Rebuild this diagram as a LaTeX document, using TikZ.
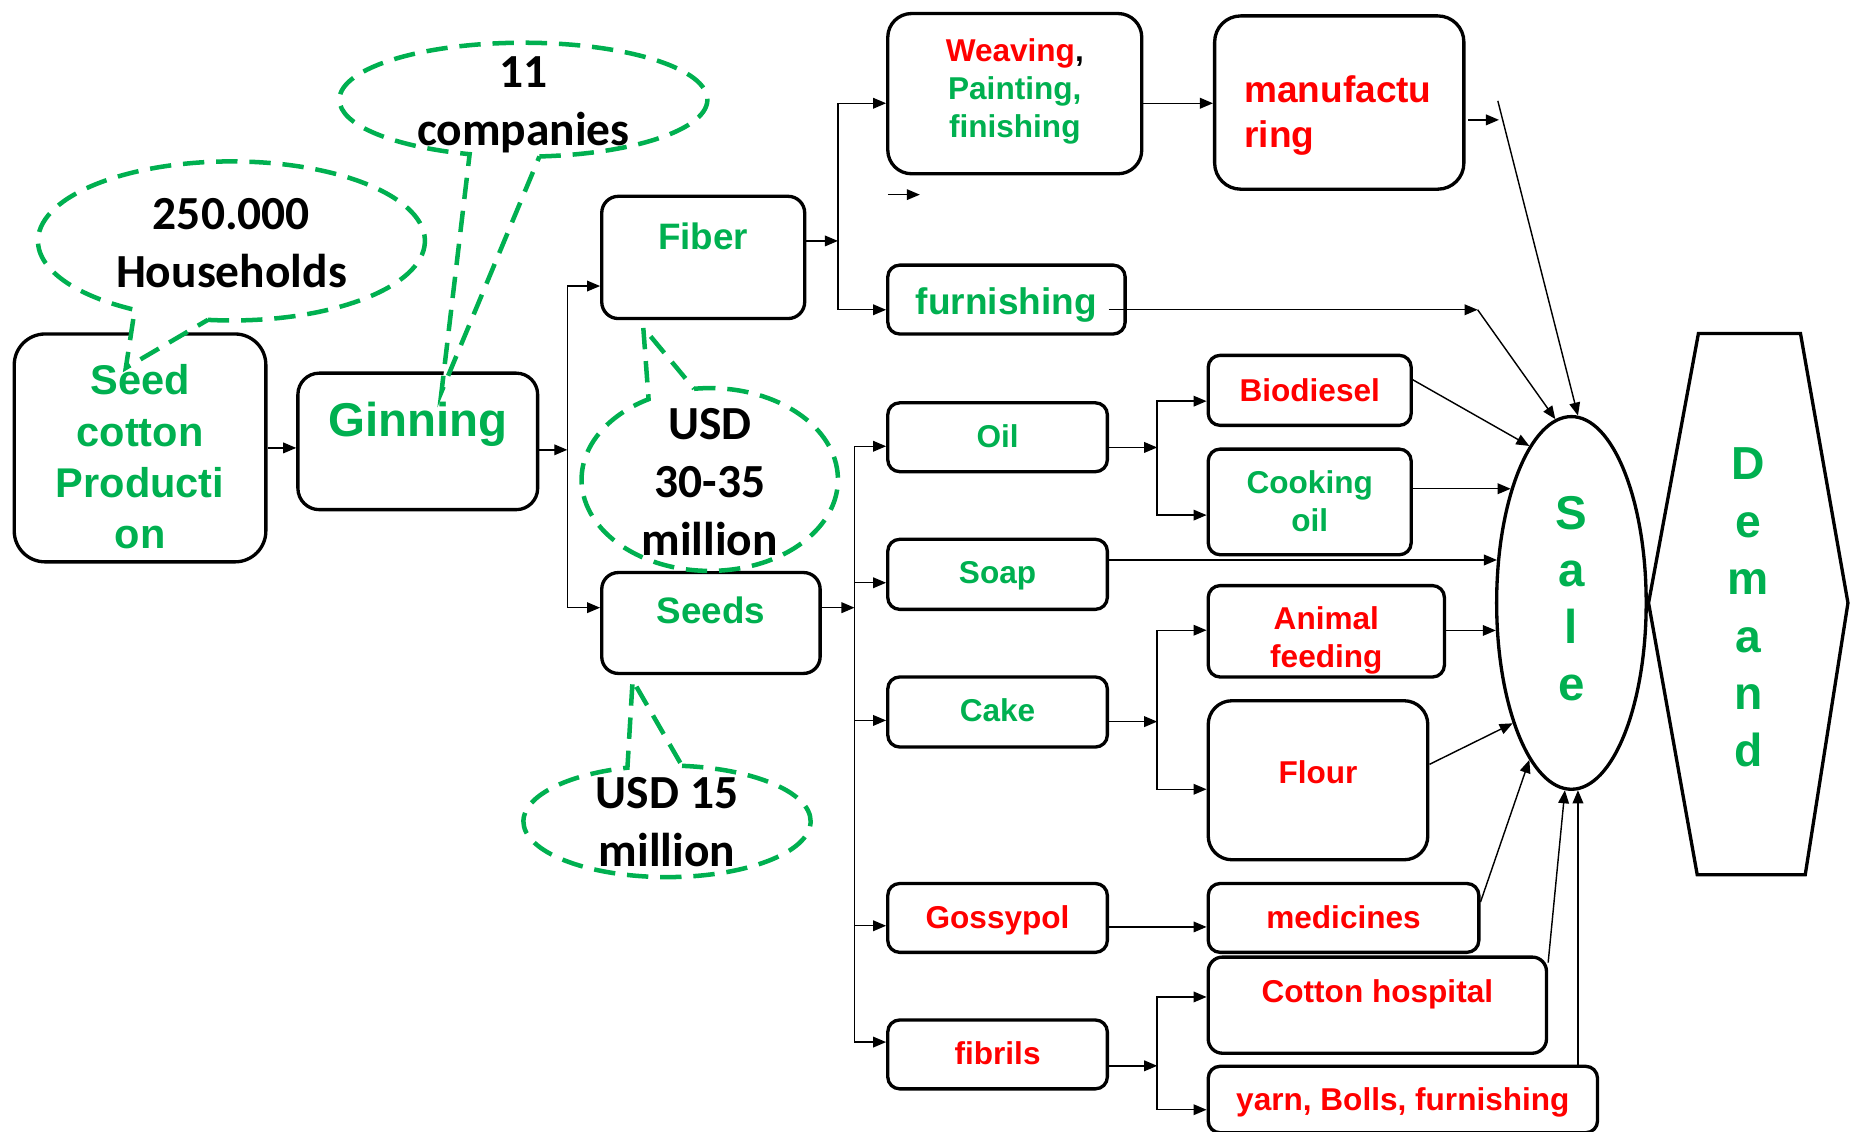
\documentclass[tikz,border=0pt]{standalone}
\usepackage{fontspec}
\setmainfont{Liberation Sans}
\newfontfamily\calfont{Carlito}
\usetikzlibrary{shapes.geometric, arrows.meta}
\definecolor{grn}{RGB}{0,176,80}
\definecolor{rd}{RGB}{255,0,0}
\tikzset{
  box/.style={draw, line width=1.4pt, rounded corners=5pt, inner sep=0pt, align=center, anchor=north, font=\bfseries\fontsize{13.3}{16}\selectfont},
  gtxt/.style={text=grn},
  rtxt/.style={text=rd},
  arr/.style={line width=0.6pt, -{Triangle[length=5.5pt,width=4.5pt]}},
  callout/.style={draw=grn, line width=1.9pt, dash pattern=on 9pt off 5pt, fill=white},
  ctxt/.style={align=center, inner sep=0pt, font=\calfont\bfseries\fontsize{20}{24.5}\selectfont}
}
\begin{document}
\begin{tikzpicture}[x=0.5pt, y=-0.5pt]
\useasboundingbox (0,0) rectangle (1568,953);

% chain on the left
\node[box, gtxt, rounded corners=13pt, minimum width=106pt, text height=90.4pt, text depth=5.6pt, font=\bfseries\fontsize{17.5}{21.6}\selectfont] (seed) at (118,280) {Seed\\cotton\\Producti\\on};
\node[box, gtxt, rounded corners=9pt, minimum width=101pt, text height=26.5pt, text depth=31pt, font=\bfseries\fontsize{20}{24}\selectfont] (gin) at (352,313) {Ginning};
\node[box, gtxt, rounded corners=7pt, minimum width=85.5pt, text height=22.5pt, text depth=29pt, font=\bfseries\fontsize{15.5}{18}\selectfont] (fiber) at (592.5,164) {Fiber};
\node[box, gtxt, rounded corners=7pt, minimum width=92pt, text height=21.5pt, text depth=21pt, font=\bfseries\fontsize{15.5}{18}\selectfont] (seeds) at (599,481) {Seeds};

% fiber branch
\node[box, gtxt, rounded corners=10pt, minimum width=107pt, text height=52.25pt, text depth=15.25pt] (weav) at (855,10) {\textcolor{rd}{Weaving}\textcolor{black}{,}\\Painting,\\finishing};
\node[box, rtxt, rounded corners=11pt, anchor=north west, align=left, inner xsep=12.5pt, text width=80pt, text height=36.5pt, text depth=36.5pt, font=\bfseries\fontsize{15.6}{19}\selectfont] (manu) at (1022,12) {manufactu\\ring};
\node[box, gtxt, minimum width=100pt, text height=21pt, text depth=8pt, font=\bfseries\fontsize{15.6}{19}\selectfont] (furn) at (848,222) {furnishing};

% seeds branch
\node[box, gtxt, minimum width=92.5pt, text height=18.75pt, text depth=10.25pt] (oil) at (840.5,338) {Oil};
\node[box, gtxt, minimum width=92.5pt, text height=18.75pt, text depth=10.75pt] (soap) at (840.5,453) {Soap};
\node[box, gtxt, minimum width=92.5pt, text height=18.75pt, text depth=10.75pt] (cake) at (840.5,569) {Cake};
\node[box, rtxt, minimum width=92.5pt, text height=18.75pt, text depth=10.25pt] (goss) at (840.5,743) {Gossypol};
\node[box, rtxt, minimum width=92.5pt, text height=18.75pt, text depth=10.25pt] (fib) at (840.5,858) {fibrils};

\node[box, rtxt, minimum width=85.5pt, text height=19.25pt, text depth=10.25pt] (bio) at (1103.5,298) {Biodiesel};
\node[box, gtxt, minimum width=85.5pt, text height=34.5pt, text depth=10pt] (cook) at (1103.5,377) {Cooking\\oil};
\node[box, rtxt, minimum width=99.5pt, text height=34.5pt, text depth=4pt] (anim) at (1117.5,492) {Animal\\feeding};
\node[box, rtxt, rounded corners=10pt, minimum width=92.5pt, text height=34.75pt, text depth=32.25pt] (flour) at (1110.5,589) {Flour};
\node[box, rtxt, minimum width=114pt, text height=18.75pt, text depth=10.25pt] (medic) at (1132,743) {medicines};
\node[box, rtxt, rounded corners=6pt, minimum width=142.5pt, text height=19.25pt, text depth=21.25pt] (cott) at (1160.5,805) {Cotton hospital};
\node[box, rtxt, minimum width=164pt, text height=18.75pt, text depth=9.25pt] (yarn) at (1182,897) {yarn, Bolls, furnishing};

% sale and demand
\node[draw, ellipse, line width=1.4pt, minimum width=63pt, minimum height=157pt, inner sep=0pt, align=center, text=grn, text depth=4pt, font=\bfseries\fontsize{20}{24}\selectfont] (sale) at (1324,508) {S\\a\\l\\e};
\draw[line width=1.4pt] (1431,281) -- (1517,281) -- (1557,508) -- (1521,737) -- (1430,737) -- (1389,508) -- cycle;
\node[align=center, inner sep=0pt, text=grn, font=\bfseries\fontsize{19.5}{24.2}\selectfont] (dem) at (1473,512) {D\\e\\m\\a\\n\\d};

% junctions
\coordinate (j1) at (478,379);
\coordinate (j2) at (706,203);
\coordinate (j3) at (1245,261);
\coordinate (j4) at (720,512);
\coordinate (j5) at (975,377);
\coordinate (j6) at (975,898);
\coordinate (j7) at (975,608);
\coordinate (s1) at (748,164);
\coordinate (s2) at (775,164);
\coordinate (s3) at (1237,101);
\coordinate (s4) at (1263,101);
\coordinate (s5) at (1262,85);
\coordinate (fu) at (934,261);

\draw[arr] (seed.east) -- (seed.east -| gin.west);
\draw[arr] (gin.east |- j1) -- (j1);
\draw[arr] (j1) |- (fiber.west |- 0,241);
\draw[arr] (j1) |- (seeds.west |- 0,512);

\draw[arr] (fiber.east |- j2) -- (j2);
\draw[arr] (j2) |- (weav.west |- 0,87);
\draw[arr] (j2) |- (furn.west |- 0,261);
\draw[arr] (weav.east |- 0,87) -- (manu.west |- 0,87);
\draw[arr] (s1) -- (s2);
\draw[arr] (s3) -- (s4);
\draw[arr] (s5) -- (sale.88);
\draw[arr] (fu) -- (j3);
\draw[arr] (j3) -- (sale.95);

\draw[arr] (seeds.east |- j4) -- (j4);
\draw[arr] (j4) |- (oil.west |- 0,376);
\draw[arr] (j4) |- (soap.west |- 0,491);
\draw[arr] (j4) |- (cake.west |- 0,607);
\draw[arr] (j4) |- (goss.west |- 0,780);
\draw[arr] (j4) |- (fib.west |- 0,878);

\draw[arr] (oil.east |- j5) -- (j5);
\draw[arr] (j5) |- (bio.west |- 0,338);
\draw[arr] (j5) |- (cook.west |- 0,434);
\draw[arr] (cake.east |- j7) -- (j7);
\draw[arr] (j7) |- (anim.west |- 0,531);
\draw[arr] (j7) |- (flour.west |- 0,665);
\draw[arr] (goss.east |- 0,781) -- (medic.west |- 0,781);
\draw[arr] (fib.east |- j6) -- (j6);
\draw[arr] (j6) |- (cott.west |- 0,840);
\draw[arr] (j6) |- (yarn.west |- 0,935);

\draw[arr] (bio.east |- 0,320) -- (sale.105);
\draw[arr] (cook.east |- sale.118) -- (sale.118);
\draw[arr] (soap.east |- sale.150) -- (sale.150);
\draw[arr] (anim.east |- sale.200) -- (sale.200);
\draw[arr] (flour.east |- 0,644) -- (sale.244);
\draw[arr] (medic.east |- 0,760) -- (sale.255);
\draw[arr] (cott.east |- 0,811) -- (sale.268);
\draw[arr] (yarn.north -| sale.272) -- (sale.272);

% callouts
\coordinate (hc) at (195,203);
\coordinate (ht) at (106,310);
\draw[callout] (hc) ++(97:163 and 67) arc[start angle=97, end angle=-240, x radius=163, y radius=67] -- (ht) -- cycle;
\coordinate (cc) at (441,84);
\coordinate (ct) at (372,330);
\draw[callout] (cc) ++(85:155 and 48) arc[start angle=85, end angle=-253, x radius=155, y radius=48] -- (ct) -- cycle;
\coordinate (uc) at (598,404);
\coordinate (ut) at (542,276);
\draw[callout] (uc) ++(-97:108 and 77) arc[start angle=-97, end angle=241.5, x radius=108, y radius=77] -- (ut) -- cycle;
\coordinate (vc) at (562,692);
\coordinate (vt) at (533,573);
\draw[callout] (vc) ++(-84:121 and 47) arc[start angle=-84, end angle=254, x radius=121, y radius=47] -- (vt) -- cycle;

\node[ctxt] (hh) at (195,204.5) {250.000\\Households};
\node[ctxt] (comp) at (441,88) {11\\companies};
\node[ctxt] (usda) at (598,406) {USD\\30-35\\million};
\node[ctxt] (usdb) at (562,692.5) {USD 15\\million};
\end{tikzpicture}
\end{document}
